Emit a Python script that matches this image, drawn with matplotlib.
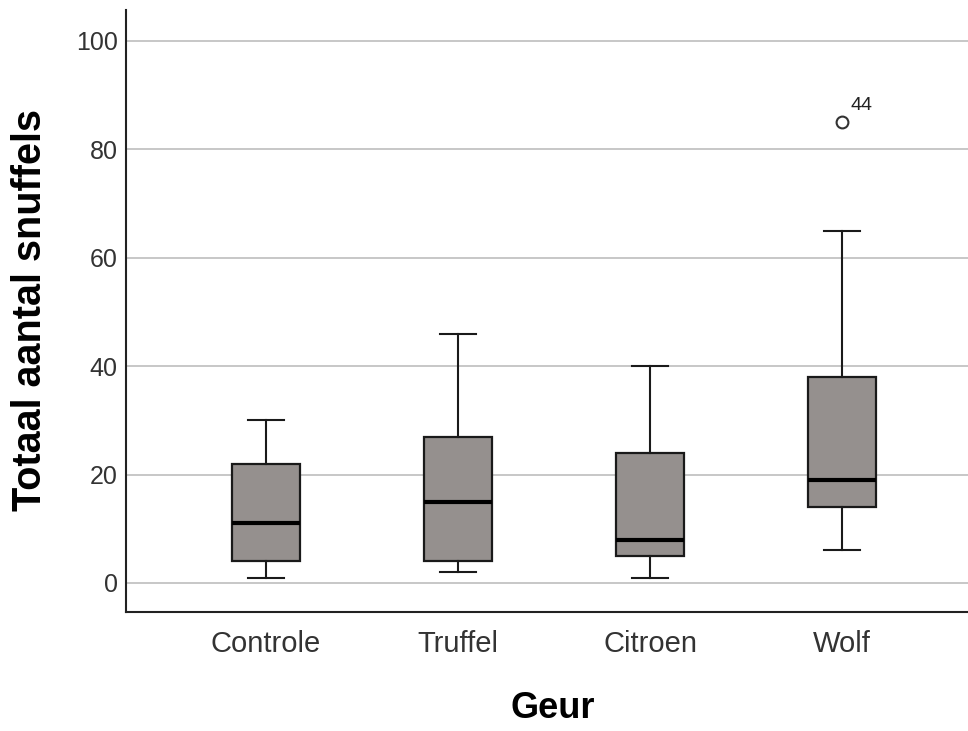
import matplotlib
matplotlib.use("Agg")
import matplotlib.pyplot as plt

categories = ["Controle", "Truffel", "Citroen", "Wolf"]
whislo = [1, 2, 1, 6]
q1 = [4, 4, 5, 14]
med = [11, 15, 8, 19]
q3 = [22, 27, 24, 38]
whishi = [30, 46, 40, 65]
fliers = [[], [], [], [85]]
flier_labels = [[], [], [], ["44"]]
yticks = [0, 20, 40, 60, 80, 100]

plt.rcParams['font.family'] = ['Liberation Sans', 'DejaVu Sans']

W, H = 968, 731
fig = plt.figure(figsize=(W / 100, H / 100), dpi=100)
ax = fig.add_axes([126 / W, (H - 612) / H, 1 - 126 / W, (612 - 10) / H])

stats = []
for i, c in enumerate(categories):
    stats.append(dict(label=c, whislo=whislo[i], q1=q1[i], med=med[i],
                      q3=q3[i], whishi=whishi[i], fliers=fliers[i]))

positions = list(range(1, len(categories) + 1))
ax.bxp(stats, positions=positions, widths=0.35, patch_artist=True,
       boxprops=dict(facecolor="#95908e", edgecolor="#1a1a1a", linewidth=1.6),
       medianprops=dict(color="black", linewidth=3),
       whiskerprops=dict(color="#1a1a1a", linewidth=1.5),
       capprops=dict(color="#1a1a1a", linewidth=1.5),
       capwidths=0.19,
       flierprops=dict(marker="o", markerfacecolor="white", markeredgecolor="#333333",
                       markersize=8.5, markeredgewidth=1.5),
       zorder=3)

for i, pos in enumerate(positions):
    for v, lab in zip(fliers[i], flier_labels[i]):
        ax.annotate(lab, (pos, v), xytext=(6, 6), textcoords="offset points",
                    fontsize=14, color="#222222", ha="left", va="bottom")

ax.set_xlim(0.271, 4.656)
ax.set_ylim(-5.35, 105.7)
ax.set_yticks(yticks)
ax.set_yticklabels([str(t) for t in yticks])
ax.yaxis.grid(True, color="#bdbdbd", linewidth=1.2, zorder=0)
ax.set_axisbelow(True)
ax.tick_params(axis="both", length=0, labelcolor="#333333")
ax.tick_params(axis="x", labelsize=21, pad=13)
ax.tick_params(axis="y", labelsize=18, pad=6)

for s in ["top", "right"]:
    ax.spines[s].set_visible(False)
for s in ["left", "bottom"]:
    ax.spines[s].set_color("#222222")
    ax.spines[s].set_linewidth(1.5)

fig.text(553 / W, 1 - 709 / H, "Geur", fontsize=26, fontweight="bold",
         ha="center", va="center")
fig.text(30 / W, 1 - 310 / H, "Totaal aantal snuffels", fontsize=28.5,
         fontweight="bold", ha="center", va="center", rotation=90)

fig.savefig("out.png", dpi=100)
